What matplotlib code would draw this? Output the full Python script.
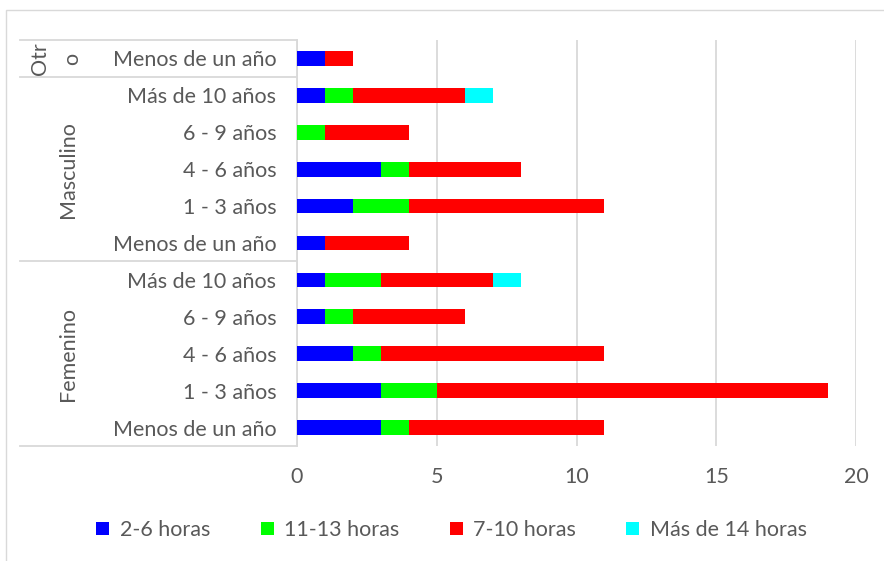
import matplotlib.pyplot as plt
from matplotlib.patches import Rectangle
from matplotlib.lines import Line2D

# =========================
# Data (bottom to top, as drawn)
# =========================
groups = ["Femenino", "Masculino", "Otro"]
group_sizes = [5, 5, 1]
categories = [
    "Menos de un año", "1 - 3 años", "4 - 6 años", "6 - 9 años", "Más de 10 años",
    "Menos de un año", "1 - 3 años", "4 - 6 años", "6 - 9 años", "Más de 10 años",
    "Menos de un año",
]
series_names = ["2-6 horas", "11-13 horas", "7-10 horas", "Más de 14 horas"]
h_2_6 = [3, 3, 2, 1, 1, 1, 2, 3, 0, 1, 1]
h_11_13 = [1, 2, 1, 1, 2, 0, 2, 1, 1, 1, 0]
h_7_10 = [7, 14, 8, 4, 4, 3, 7, 4, 3, 4, 1]
h_14_plus = [0, 0, 0, 0, 1, 0, 0, 0, 0, 1, 0]
colors = ["#0000FF", "#00FF00", "#FF0000", "#00FFFF"]

plt.rcParams['font.family'] = ['Lato', 'DejaVu Sans']
TEXT = "#595959"
GRID = "#D9D9D9"
FS = 15.5

W, H = 884, 561
fig = plt.figure(figsize=(W / 100, H / 100), dpi=100)

# plot area in pixels
x0, x1, y_top, y_bot = 297, 856, 40, 446
ax = fig.add_axes([x0 / W, 1 - y_bot / H, (x1 - x0) / W, (y_bot - y_top) / H])

# chart border
fig.add_artist(Rectangle((6 / W, -0.01), 1.0, 1 - 10 / H + 0.01,
                         transform=fig.transFigure, fill=False,
                         edgecolor=GRID, linewidth=1))

# =========================
# Stacked bars
# =========================
ypos = list(range(len(categories)))
left = [0] * len(categories)
for vals, name, c in zip([h_2_6, h_11_13, h_7_10, h_14_plus], series_names, colors):
    ax.barh(ypos, vals, left=left, height=0.4, color=c, label=name, zorder=3)
    left = [l + v for l, v in zip(left, vals)]

ax.set_xlim(0, 20)
ax.set_ylim(-0.5, len(categories) - 0.5)
ax.set_xticks([0, 5, 10, 15, 20])
ax.set_yticks(ypos)
ax.set_yticklabels(categories)
ax.tick_params(axis='both', length=0, labelsize=FS, labelcolor=TEXT)
ax.tick_params(axis='x', pad=15)
ax.tick_params(axis='y', pad=15)
ax.grid(axis='x', color=GRID, linewidth=1.3, zorder=0)
for s in ['top', 'right', 'bottom']:
    ax.spines[s].set_visible(False)
ax.spines['left'].set_color(GRID)
ax.spines['left'].set_linewidth(1.3)

# =========================
# Group labels and separators
# =========================
to_fig = fig.transFigure.inverted()
sep_x0 = 20 / W
bounds = [-0.5]
for n in group_sizes:
    bounds.append(bounds[-1] + n)
for b in bounds:
    yfig = to_fig.transform(ax.transData.transform((0, b)))[1]
    fig.add_artist(Line2D([sep_x0, x0 / W], [yfig, yfig], color=GRID,
                          linewidth=1.3, transform=fig.transFigure))

for g, lo, hi in zip(groups, bounds[:-1], bounds[1:]):
    ymid = to_fig.transform(ax.transData.transform((0, (lo + hi) / 2)))[1]
    if hi - lo > 1:
        fig.text(68 / W, ymid, g, rotation=90, ha='center', va='center',
                 fontsize=FS, color=TEXT)
    else:
        # narrow group: label wraps onto two rotated lines
        fig.text(40 / W, ymid, g[:-1], rotation=90, ha='center', va='center',
                 fontsize=FS, color=TEXT)
        fig.text(72 / W, ymid, g[-1], rotation=90, ha='center', va='center',
                 fontsize=FS, color=TEXT)

# =========================
# Legend
# =========================
fig.legend(loc='center', bbox_to_anchor=(0.511, 1 - 530 / H), ncol=4,
           frameon=False, fontsize=FS, labelcolor=TEXT,
           handlelength=0.6, handleheight=0.6, handletextpad=0.5,
           columnspacing=2.33)

fig.savefig("out.png", dpi=100)
